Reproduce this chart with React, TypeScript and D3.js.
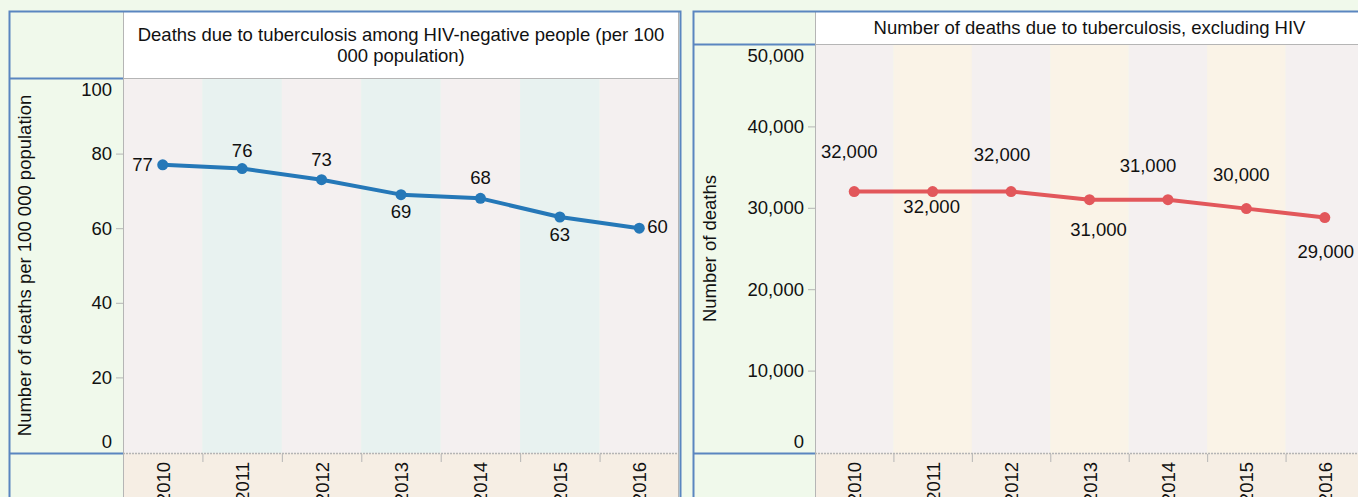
import React from "react";
import * as d3 from "d3";

const years = ["2010", "2011", "2012", "2013", "2014", "2015", "2016"];
const rateValues = [77, 76, 73, 69, 68, 63, 60];
const deathValues = [32000, 32000, 32000, 31000, 31000, 29900, 28800];
const rateTicks = [0, 20, 40, 60, 80, 100];
const deathTicks = [0, 10000, 20000, 30000, 40000, 50000];
const rateTitle = ["Deaths due to tuberculosis among HIV-negative people (per 100", "000 population)"];
const deathTitle = ["Number of deaths due to tuberculosis, excluding HIV"];
const rateAxisTitle = "Number of deaths per 100 000 population";
const deathAxisTitle = "Number of deaths";

// label placement (layout only): [dx, dy, anchor]
const rateLabelPos: [number, number, string][] = [
  [-10, 0, "end"], [0, -18, "middle"], [0, -20, "middle"], [0, 17, "middle"],
  [0, -21, "middle"], [0, 17, "middle"], [8, -2, "start"],
];
const deathLabelPos: [number, number, string][] = [
  [-5, -40, "middle"], [-1, 15, "middle"], [-9, -37, "middle"], [9, 30, "middle"],
  [-20, -34, "middle"], [-5, -34, "middle"], [1, 34, "middle"],
];

const FONT = "'Liberation Sans', Arial, sans-serif";
const FS = 18.5;
const BG = "#f0f9eb";
const BLUE = "#5a86c0";
const GRAY = "#b5b5b5";
const BEIGE = "#f6eee4";
const W = 1358, H = 497;

type PanelProps = {
  x0: number; x1: number; plotX0: number; plotX1: number; top: number;
  plotTop: number; plotBottom: number; values: number[]; ticks: number[];
  domainMax: number; title: string[]; axisTitle: string; lineColor: string;
  bandColors: [string, string]; labelPos: [number, number, string][];
  fmt: (v: number) => string; labelFmt: (v: number) => string; axisTitleX: number;
};

function Panel(p: PanelProps) {
  const x = d3.scaleBand<string>().domain(years).range([p.plotX0, p.plotX1]).padding(0);
  const y = d3.scaleLinear().domain([0, p.domainMax]).range([p.plotBottom - 1, p.plotTop + 1]);
  const cx = (i: number) => (x(years[i]) as number) + x.bandwidth() / 2;
  const line = d3.line<number>().x((_, i) => cx(i)).y((v) => y(v));
  const titleCY = (p.top + p.plotTop) / 2;
  const lh = 21;
  return (
    <g>
      <rect x={p.x0} y={p.top} width={p.plotX0 - p.x0} height={H - p.top} fill={BG} />
      <rect x={p.plotX0} y={p.top} width={p.plotX1 - p.plotX0} height={p.plotTop - p.top} fill="#ffffff" />
      {years.map((yr, i) => (
        <rect key={yr} x={x(yr)} y={p.plotTop} width={x.bandwidth()} height={p.plotBottom - p.plotTop}
          fill={p.bandColors[i % 2]} />
      ))}
      <rect x={p.plotX0} y={p.plotBottom} width={p.plotX1 - p.plotX0} height={H - p.plotBottom} fill={BEIGE} />
      {p.title.map((t, i) => (
        <text key={i} x={(p.plotX0 + p.plotX1) / 2} y={titleCY + (i - (p.title.length - 1) / 2) * lh + 6.5}
          textAnchor="middle" fontSize={FS} fill="#111">{t}</text>
      ))}
      <line x1={p.plotX0 + 0.5} x2={p.plotX0 + 0.5} y1={p.top} y2={H} stroke={GRAY} strokeWidth={1} />
      <line x1={p.plotX0} x2={p.plotX1} y1={p.plotTop + 0.5} y2={p.plotTop + 0.5} stroke={GRAY} strokeWidth={1} />
      <line x1={p.x0} x2={p.plotX0} y1={p.plotTop + 0.5} y2={p.plotTop + 0.5} stroke={BLUE} strokeWidth={2} />
      <line x1={p.x0} x2={p.plotX0} y1={p.plotBottom + 0.5} y2={p.plotBottom + 0.5} stroke={BLUE} strokeWidth={2} />
      <line x1={p.plotX0} x2={p.plotX1} y1={p.plotBottom + 0.5} y2={p.plotBottom + 0.5} stroke={GRAY}
        strokeWidth={1.5} strokeDasharray="2,1" />
      <line x1={p.plotX1 - 0.5} x2={p.plotX1 - 0.5} y1={p.top} y2={H} stroke={GRAY} strokeWidth={1} />
      {years.slice(1).map((yr) => (
        <line key={yr} x1={(x(yr) as number) + 0.5} x2={(x(yr) as number) + 0.5} y1={p.plotBottom + 1}
          y2={p.plotBottom + 9} stroke={GRAY} strokeWidth={1} />
      ))}
      {years.map((yr, i) => (
        <text key={yr} transform={`translate(${cx(i) + 7},${p.plotBottom + 9}) rotate(-90)`} textAnchor="end"
          fontSize={FS} fill="#111">{yr}</text>
      ))}
      {p.ticks.map((t, i) => {
        const ty = y(t);
        const first = i === 0, last = i === p.ticks.length - 1;
        let ly = ty + 6.5;
        if (last) ly = p.plotTop + 18;
        if (first) ly = p.plotBottom - 5;
        return (
          <g key={t}>
            {!first && !last && (
              <line x1={p.plotX0 - 7} x2={p.plotX0} y1={ty + 0.5} y2={ty + 0.5} stroke={GRAY} strokeWidth={1} />
            )}
            <text x={p.plotX0 - 11} y={ly} textAnchor="end" fontSize={FS} fill="#111">{p.fmt(t)}</text>
          </g>
        );
      })}
      <text transform={`translate(${p.axisTitleX},${(p.plotTop + p.plotBottom) / 2}) rotate(-90)`}
        textAnchor="middle" fontSize={FS} fill="#111">{p.axisTitle}</text>
      <path d={line(p.values) as string} fill="none" stroke={p.lineColor} strokeWidth={4}
        strokeLinejoin="round" strokeLinecap="round" />
      {p.values.map((v, i) => (
        <circle key={i} cx={cx(i)} cy={y(v)} r={5.5} fill={p.lineColor} />
      ))}
      {p.values.map((v, i) => {
        const [dx, dy, anchor] = p.labelPos[i];
        return (
          <text key={i} x={cx(i) + dx} y={y(v) + dy + 6.5} textAnchor={anchor as any} fontSize={FS}
            fill="#111">{p.labelFmt(v)}</text>
        );
      })}
      <rect x={p.x0 + 0.5} y={p.top + 0.5} width={p.x1 - p.x0} height={H + 10} fill="none" stroke={BLUE}
        strokeWidth={2} />
    </g>
  );
}

export default function App() {
  const comma = d3.format(",");
  return (
    <svg width={W} height={H} style={{ position: "absolute", left: 0, top: 0, fontFamily: FONT }}>
      <rect x={0} y={0} width={W} height={H} fill={BG} />
      <Panel x0={9} x1={680} plotX0={123} plotX1={679} top={11} plotTop={78} plotBottom={453}
        values={rateValues} ticks={rateTicks} domainMax={100} title={rateTitle} axisTitle={rateAxisTitle}
        lineColor="#2578b8" bandColors={["#f4f0f0", "#e8f2f0"]} labelPos={rateLabelPos}
        fmt={(v) => String(v)} labelFmt={(v) => String(Math.round(v))} axisTitleX={31} />
      <Panel x0={693} x1={1366} plotX0={815} plotX1={1364} top={11} plotTop={44} plotBottom={453}
        values={deathValues} ticks={deathTicks} domainMax={50000} title={deathTitle}
        axisTitle={deathAxisTitle} lineColor="#e2575b" bandColors={["#f4f0f0", "#faf3e7"]}
        labelPos={deathLabelPos} fmt={(v) => comma(v)} labelFmt={(v) => comma(Math.round(v / 1000) * 1000)}
        axisTitleX={716} />
    </svg>
  );
}
